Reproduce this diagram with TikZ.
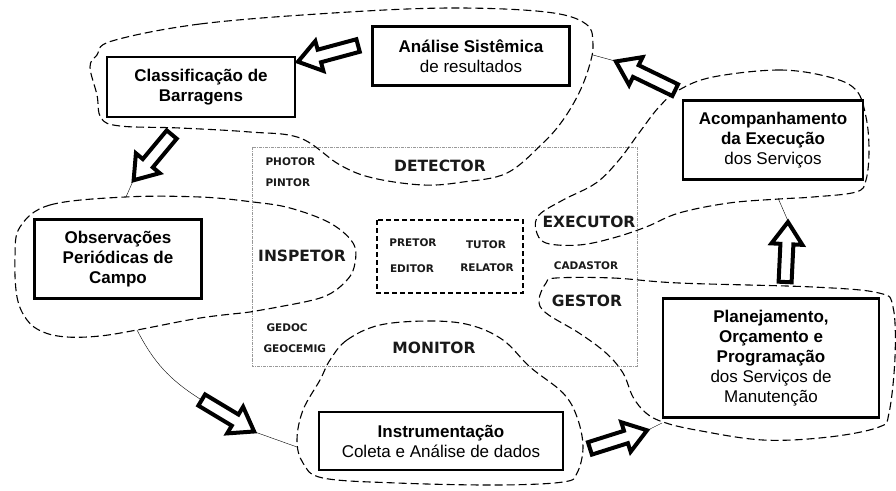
\documentclass[tikz,border=0pt]{standalone}
\usepackage{fontspec}
\setmainfont{Liberation Sans}
\newfontfamily\verdfont{DejaVu Sans}
\usetikzlibrary{calc,shapes.arrows}

\begin{document}
\begin{tikzpicture}[x=1pt, y=-1pt,
  box/.style={draw, line width=2.8pt, fill=white, align=center, inner sep=0pt,
    font=\fontsize{17}{20}\selectfont},
  blob/.style={line width=1.1pt, dash pattern=on 8pt off 4pt},
  biglbl/.style={font=\verdfont\bfseries\fontsize{15.5}{18}\selectfont, text=black!90},
  smalllbl/.style={font=\verdfont\bfseries\fontsize{10.5}{12}\selectfont, text=black!90},
  bigarrow/.style={single arrow, draw, fill=white, line width=4pt, inner xsep=0pt,
    inner ysep=4.5pt, single arrow head extend=9pt, single arrow tip angle=70, anchor=tail}]

\useasboundingbox (0,0) rectangle (896,490);

% Area of the roles
\draw[gray!80, line width=0.9pt, densely dash dot] (252,147) rectangle (637,366);
\draw[line width=1.4pt, dash pattern=on 5pt off 3pt] (377,220) rectangle (523,293);

% Dashed regions
\draw[blob] plot[smooth cycle, tension=0.6] coordinates {(112,41) (200,24) (333,13) (450,8)
  (546,12) (586,24) (593,45) (589,67) (579,93) (563,120) (543,143) (507,173) (463,182)
  (423,185) (373,178) (340,165) (300,138) (250,132) (180,128) (120,126) (101,118) (97,95)
  (90,67) (97,55)};
\draw[blob] plot[smooth cycle, tension=0.6] coordinates {(713,77) (779,70) (829,77) (856,90)
  (866,117) (869,150) (866,180) (856,192) (813,197) (779,199) (729,203) (679,213) (646,227)
  (613,238) (579,245) (546,243) (536,230) (539,215) (563,200) (596,183) (619,160) (639,133)
  (659,107) (679,90)};
\draw[blob] plot[smooth cycle, tension=0.6] coordinates {(20,227) (50,205) (125,197) (200,197)
  (253,202) (290,208) (330,223) (353,243) (355,263) (347,280) (323,297) (273,308) (250,312)
  (200,318) (137,330) (100,336) (67,337) (43,332) (27,320) (17,297) (15,257)};
\draw[blob] plot[smooth cycle, tension=0.6] coordinates {(330,360) (347,340) (380,325) (430,321)
  (470,325) (503,340) (530,367) (563,393) (577,417) (583,447) (577,473) (563,482) (497,485)
  (397,483) (323,478) (303,463) (297,440) (303,410) (320,380)};
\draw[blob] plot[smooth cycle, tension=0.6] coordinates {(556,278) (613,278) (679,283) (813,287)
  (879,293) (893,307) (895,357) (889,413) (879,427) (829,437) (763,440) (696,430) (663,422)
  (646,413) (633,397) (623,373) (606,353) (579,333) (546,313) (539,300) (546,283)};

% Arrow ends
\coordinate (t1) at (360,45);  \coordinate (h1) at (297,62);
\coordinate (t2) at (173,133); \coordinate (h2) at (133,181);
\coordinate (t3) at (200,399); \coordinate (h3) at (255,432);
\coordinate (t4) at (588,449); \coordinate (h4) at (648,430);
\coordinate (t5) at (785,284); \coordinate (h5) at (788,221);
\coordinate (t6) at (677,91);  \coordinate (h6) at (615,61);
\coordinate (c2) at (126,197); \coordinate (c3a) at (137,330);
\coordinate (c3b) at (297,447); \coordinate (c4) at (662,423);
\coordinate (c5) at (778,198); \coordinate (c6) at (593,55);

% Thin links
\draw (h6) -- (c6);
\draw (h2) -- (c2);
\draw (c3a) to[bend right=15] (t3);
\draw (h3) -- (c3b);
\draw (h4) -- (c4);
\draw (h5) -- (c5);

% Steps
\node[box, minimum width=188pt, minimum height=60pt] (classif) at (201,87)
  {\textbf{Classificação de}\\\textbf{Barragens}};
\node[box, minimum width=197pt, minimum height=59pt] (analise) at (471,56)
  {\textbf{Análise Sistêmica}\\de resultados};
\node[box, minimum width=180pt, minimum height=79pt] (acomp) at (773,140)
  {\textbf{Acompanhamento}\\\textbf{da Execução}\\dos Serviços};
\node[box, minimum width=167pt, minimum height=79pt] (observ) at (118,259)
  {\textbf{Observações}\\\textbf{Periódicas de}\\\textbf{Campo}};
\node[box, minimum width=244pt, minimum height=58pt] (instr) at (441,441)
  {\textbf{Instrumentação}\\Coleta e Análise de dados};
\node[box, minimum width=216pt, minimum height=119pt] (planej) at (771,358)
  {\textbf{Planejamento,}\\\textbf{Orçamento e}\\\textbf{Programação}\\dos Serviços de\\Manutenção};

% Block arrows
\foreach \a/\b in {t1/h1, t2/h2, t3/h3, t4/h4, t5/h5, t6/h6}
  \path let \p1=($(\b)-(\a)$), \n1={atan2(\y1,\x1)}, \n2={veclen(\x1,\y1)} in
    node[bigarrow, minimum height=\n2-3pt, rotate=\n1] at (\a) {};

% Roles
\node[biglbl] (detector) at (440,166) {DETECTOR};
\node[biglbl] (inspetor) at (302,256) {INSPETOR};
\node[biglbl] (executor) at (589,222) {EXECUTOR};
\node[biglbl] (gestor) at (587,301) {GESTOR};
\node[biglbl] (monitor) at (434,348) {MONITOR};
\node[smalllbl, anchor=west] (photor) at (262,162) {PHOTOR};
\node[smalllbl, anchor=west] (pintor) at (262,183) {PINTOR};
\node[smalllbl, anchor=west] (gedoc) at (263,328) {GEDOC};
\node[smalllbl, anchor=west] (geocemig) at (260,349) {GEOCEMIG};
\node[smalllbl] (pretor) at (413,243) {PRETOR};
\node[smalllbl] (tutor) at (486,245) {TUTOR};
\node[smalllbl] (editor) at (412,269) {EDITOR};
\node[smalllbl] (relator) at (487,268) {RELATOR};
\node[smalllbl] (cadastor) at (586,266) {CADASTOR};

\end{tikzpicture}
\end{document}
